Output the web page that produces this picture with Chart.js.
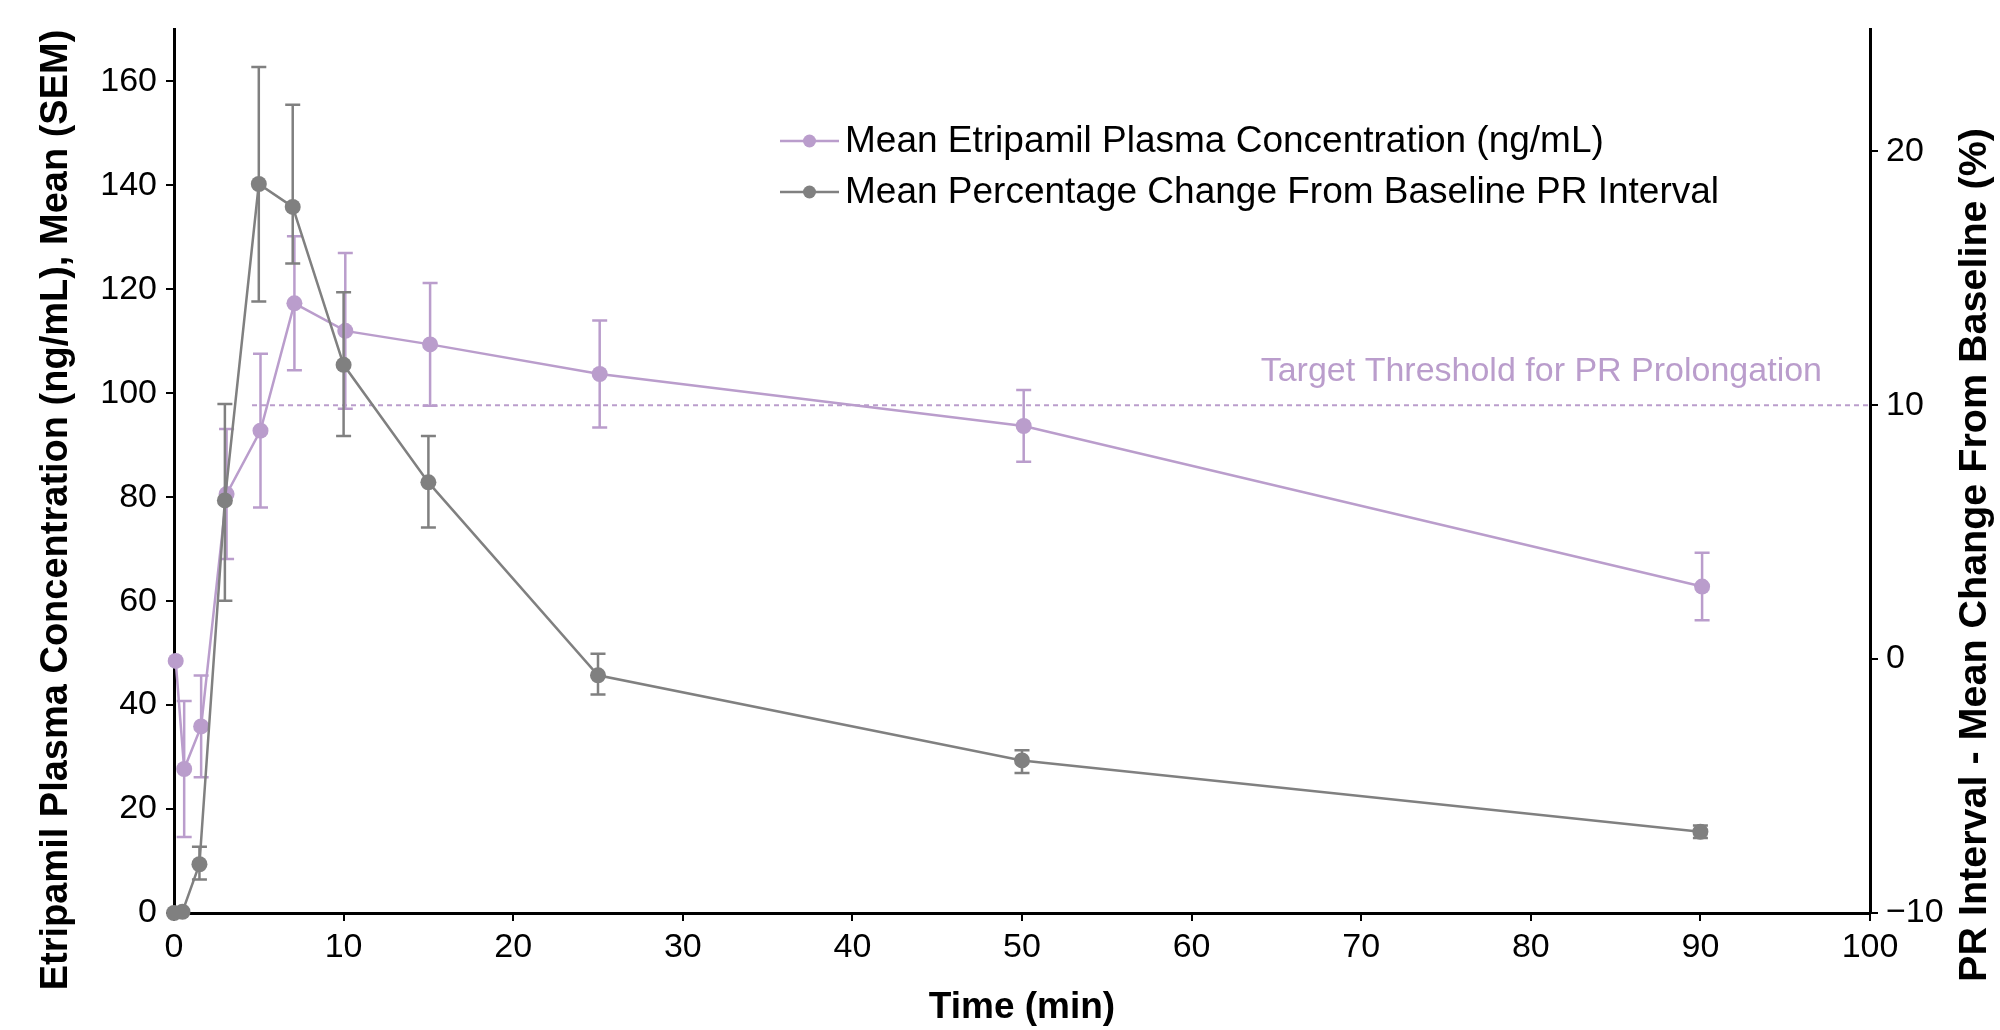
<!DOCTYPE html>
<html><head><meta charset="utf-8">
<script src="https://cdn.jsdelivr.net/npm/chart.js@4.4.1/dist/chart.umd.min.js"></script>
<style>html,body{margin:0;padding:0;background:#fff;}canvas{display:block;}</style>
</head><body>
<canvas id="c" width="2000" height="1030"></canvas>
<script>
// ---- data ----
const concLabel = 'Mean Etripamil Plasma Concentration (ng/mL)';
const prLabel = 'Mean Percentage Change From Baseline PR Interval';
const concTimes = [0.1, 0.6, 1.6, 3.1, 5.1, 7.1, 10.1, 15.1, 25.1, 50.1, 90.1];
const concMean  = [48.5, 27.7, 35.9, 80.6, 92.8, 117.3, 112.0, 109.4, 103.7, 93.7, 62.8];
const concSem   = [0, 13.1, 9.8, 12.5, 14.8, 12.9, 15.0, 11.8, 10.3, 6.9, 6.5];
const prTimes   = [0, 0.5, 1.5, 3, 5, 7, 10, 15, 25, 50, 90];
const prMean    = [-10, -9.95, -8.08, 6.25, 18.71, 17.81, 11.59, 6.96, -0.64, -3.99, -6.8];
const prErrUp   = [0, 0, 0.69, 3.8, 4.61, 4.02, 2.86, 1.83, 0.85, 0.4, 0.25];
const prErrDown = [0, 0, 0.6, 3.95, 4.63, 2.23, 2.8, 1.78, 0.75, 0.5, 0.25];
const thresholdLabel = 'Target Threshold for PR Prolongation';
const thresholdValue = 10;
const thresholdStart = 4.6;
const thresholdEnd = 100;
const xTicks = [0, 10, 20, 30, 40, 50, 60, 70, 80, 90, 100];
const leftTicks = [0, 20, 40, 60, 80, 100, 120, 140, 160];
const rightTicks = [-10, 0, 10, 20];
const xTitle = 'Time (min)';
const leftTitle = 'Etripamil Plasma Concentration (ng/mL), Mean (SEM)';
const rightTitle = 'PR Interval - Mean Change From Baseline (%)';

const PURPLE = '#BA9DCC';
const GRAY = '#808080';
const FONT = "'Liberation Sans', Arial, Helvetica, sans-serif";

const concData = concTimes.map((t, i) => ({x: t, y: concMean[i]}));
const prData = prTimes.map((t, i) => ({x: t, y: prMean[i]}));
const threshData = [{x: thresholdStart, y: thresholdValue}, {x: thresholdEnd, y: thresholdValue}];

const errorBars = {
  id: 'errorBars',
  beforeDatasetDraw(chart, args) {
    const ds = chart.data.datasets[args.index];
    if (!ds.errUp) return;
    const ctx = chart.ctx;
    const xs = chart.scales.x, ys = chart.scales[ds.yAxisID];
    ctx.save();
    ctx.strokeStyle = ds.borderColor;
    ctx.lineWidth = 2.5;
    const cap = 7.5;
    ds.data.forEach((p, i) => {
      const up = ds.errUp[i], dn = ds.errDown[i];
      if (!up && !dn) return;
      const x = xs.getPixelForValue(p.x);
      const yt = ys.getPixelForValue(p.y + up);
      const yb = ys.getPixelForValue(p.y - dn);
      ctx.beginPath();
      ctx.moveTo(x, yt); ctx.lineTo(x, yb);
      ctx.moveTo(x - cap, yt); ctx.lineTo(x + cap, yt);
      ctx.moveTo(x - cap, yb); ctx.lineTo(x + cap, yb);
      ctx.stroke();
    });
    ctx.restore();
  }
};

const decorations = {
  id: 'decorations',
  afterDatasetsDraw(chart) {
    const ctx = chart.ctx;
    const area = chart.chartArea;
    const yr = chart.scales.yRight;
    ctx.save();
    ctx.fillStyle = PURPLE;
    ctx.font = '34px ' + FONT;
    ctx.textAlign = 'right';
    ctx.textBaseline = 'middle';
    ctx.fillText(thresholdLabel, area.right - 48, yr.getPixelForValue(thresholdValue) - 34);
    ctx.restore();
  },
  afterDraw(chart) {
    const ctx = chart.ctx;
    const items = [chart.data.datasets[1], chart.data.datasets[0]];
    const rows = [141, 192];
    items.forEach((ds, i) => {
      const y = rows[i];
      ctx.save();
      ctx.strokeStyle = ds.borderColor;
      ctx.lineWidth = 2.5;
      ctx.beginPath(); ctx.moveTo(780, y); ctx.lineTo(839, y); ctx.stroke();
      ctx.fillStyle = ds.borderColor;
      ctx.beginPath(); ctx.arc(809.5, y, 6.5, 0, Math.PI * 2); ctx.fill();
      ctx.fillStyle = '#000';
      ctx.font = '37px ' + FONT;
      ctx.textAlign = 'left';
      ctx.textBaseline = 'middle';
      ctx.fillText(ds.label, 845, y + 1);
      ctx.restore();
    });
    ctx.save();
    ctx.fillStyle = '#000';
    ctx.font = 'bold 38px ' + FONT;
    ctx.textAlign = 'center';
    ctx.textBaseline = 'middle';
    ctx.translate(57, 510);
    ctx.rotate(-Math.PI / 2);
    ctx.fillText(leftTitle, 0, 0);
    ctx.restore();
    ctx.save();
    ctx.fillStyle = '#000';
    ctx.font = 'bold 39.5px ' + FONT;
    ctx.textAlign = 'center';
    ctx.textBaseline = 'middle';
    ctx.translate(1975, 555);
    ctx.rotate(-Math.PI / 2);
    ctx.fillText(rightTitle, 0, 0);
    ctx.restore();
  }
};

const minus = v => String(v).replace('-', '\u2212');
const tickFont = {family: FONT, size: 34};

new Chart(document.getElementById('c'), {
  type: 'line',
  data: {
    datasets: [
      {label: prLabel, data: prData, yAxisID: 'yRight', borderColor: GRAY, backgroundColor: GRAY,
       pointBackgroundColor: GRAY, pointBorderColor: GRAY, borderWidth: 2.5, pointRadius: 8, pointBorderWidth: 0,
       errUp: prErrUp, errDown: prErrDown, clip: false, tension: 0},
      {label: concLabel, data: concData, yAxisID: 'yLeft', borderColor: PURPLE, backgroundColor: PURPLE,
       pointBackgroundColor: PURPLE, pointBorderColor: PURPLE, borderWidth: 2.5, pointRadius: 8, pointBorderWidth: 0,
       errUp: concSem, errDown: concSem, clip: false, tension: 0},
      {label: thresholdLabel, data: threshData, yAxisID: 'yRight', borderColor: PURPLE, borderWidth: 2,
       borderDash: [5, 4], pointRadius: 0, clip: false}
    ]
  },
  options: {
    responsive: false,
    animation: false,
    devicePixelRatio: 1,
    layout: {padding: {left: 0, right: 0, top: 27, bottom: 0}},
    plugins: {legend: {display: false}, tooltip: {enabled: false}},
    scales: {
      x: {
        type: 'linear', min: 0, max: 100,
        afterBuildTicks: s => { s.ticks = xTicks.map(v => ({value: v})); },
        afterFit: s => { s.height = 117; },
        border: {display: true, color: '#000', width: 3},
        grid: {drawOnChartArea: false, color: '#000', lineWidth: 2, tickLength: 8},
        ticks: {font: tickFont, color: '#000', padding: 6, maxRotation: 0, autoSkip: false},
        title: {display: true, text: xTitle, color: '#000', font: {family: FONT, size: 37, weight: 'bold'}, padding: {top: 0, bottom: 0}}
      },
      yLeft: {
        type: 'linear', position: 'left', min: 0, max: 170,
        afterBuildTicks: s => { s.ticks = leftTicks.map(v => ({value: v})); },
        afterFit: s => { s.width = 174; },
        border: {display: true, color: '#000', width: 3},
        grid: {drawOnChartArea: false, color: '#000', lineWidth: 2, tickLength: 8},
        ticks: {font: tickFont, color: '#000', padding: 9, autoSkip: false}
      },
      yRight: {
        type: 'linear', position: 'right', min: -10, max: 24.8,
        afterBuildTicks: s => { s.ticks = rightTicks.map(v => ({value: v})); },
        afterFit: s => { s.width = 130; },
        border: {display: true, color: '#000', width: 3},
        grid: {drawOnChartArea: false, color: '#000', lineWidth: 2, tickLength: 8},
        ticks: {font: tickFont, color: '#000', padding: 8, autoSkip: false, callback: minus}
      }
    }
  },
  plugins: [errorBars, decorations]
});
</script>
</body></html>
